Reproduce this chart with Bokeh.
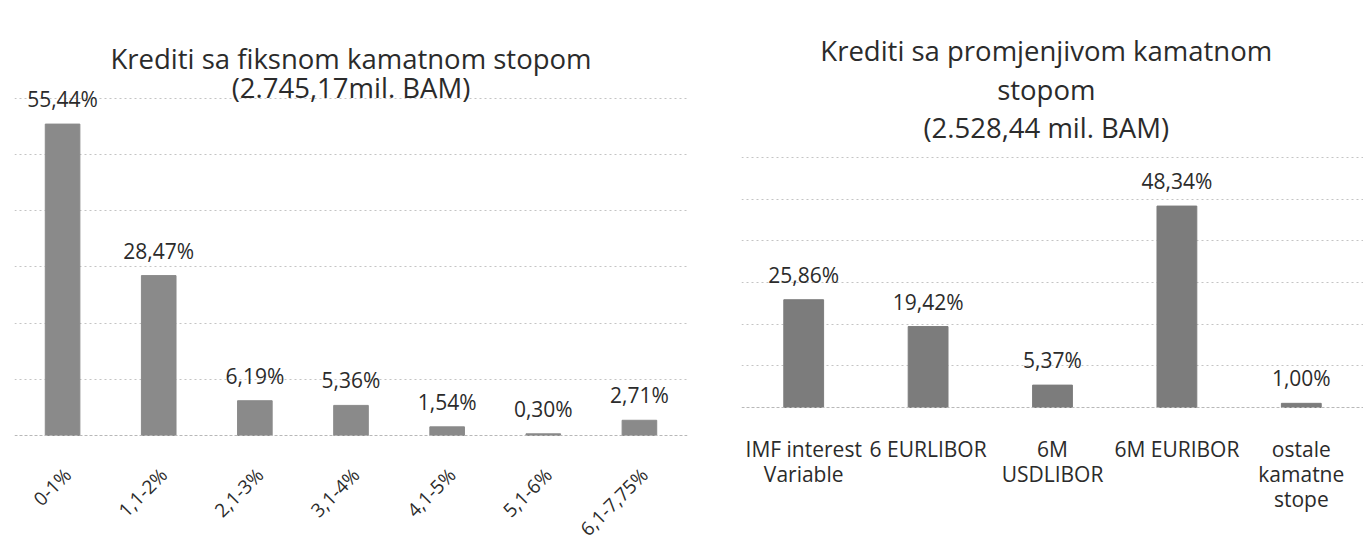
import math
from bokeh.plotting import figure
from bokeh.layouts import row
from bokeh.models import Range1d, FactorRange, Grid, FixedTicker, Span
from bokeh.core.properties import value
from bokeh.embed import file_html
from bokeh.resources import INLINE

# ---------------- data ----------------
fixed_cats = ["0-1%", "1,1-2%", "2,1-3%", "3,1-4%", "4,1-5%", "5,1-6%", "6,1-7,75%"]
fixed_vals = [55.44, 28.47, 6.19, 5.36, 1.54, 0.30, 2.71]
fixed_title = "Krediti sa fiksnom kamatnom stopom"
fixed_sub = "(2.745,17mil. BAM)"

var_cats = ["IMF interest\nVariable", "6 EURLIBOR", "6M\nUSDLIBOR", "6M EURIBOR", "ostale\nkamatne\nstope"]
var_vals = [25.86, 19.42, 5.37, 48.34, 1.00]
var_title = ["Krediti sa promjenjivom kamatnom", "stopom", "(2.528,44 mil. BAM)"]

grid_ticks = [10, 20, 30, 40, 50, 60]


def pct(v):
    return f"{v:.2f}".replace(".", ",") + "%"


FONT = value("Open Sans")
TXT = "#2b2b2b"
GRID = "#c4c4c4"
H = 541


def base_fig(cats, px_per, base_px, left, frame_w, right):
    p = figure(
        x_range=FactorRange(*cats),
        y_range=Range1d(-(H - base_px) / px_per, base_px / px_per),
        width=left + frame_w + right, height=H,
        min_border_left=left, min_border_right=right,
        min_border_top=0, min_border_bottom=0,
        x_axis_location=None, y_axis_location=None,
        toolbar_location=None, output_backend="svg",
    )
    p.center = [r for r in p.center if not isinstance(r, Grid)]
    p.outline_line_color = None
    p.background_fill_color = "white"
    p.border_fill_color = "white"
    p.add_layout(Grid(dimension=1, ticker=FixedTicker(ticks=grid_ticks),
                      grid_line_color=GRID, grid_line_dash="2 3", grid_line_width=1))
    p.add_layout(Span(location=0, dimension="width", line_color="#b8b8b8",
                      line_dash="3 2", line_width=1))
    return p


# ---------------- left chart ----------------
PX_L = 5.617
BASE_L = 435
p1 = base_fig(fixed_cats, PX_L, BASE_L, 14, 673, 20)
p1.vbar(x=fixed_cats, top=fixed_vals, width=0.36, color="#8a8a8a")
p1.text(x=fixed_cats, y=fixed_vals, text=[pct(v) for v in fixed_vals],
        text_align="center", text_baseline="middle", y_offset=-25,
        text_font=FONT, text_font_size="21px", text_color=TXT)
p1.text(x=fixed_cats, y=[0] * len(fixed_cats), text=fixed_cats,
        angle=math.pi / 4, text_align="right", text_baseline="middle",
        x_offset=5, y_offset=36,
        text_font=FONT, text_font_size="19px", text_color=TXT)
p1.text(x=[3.5, 3.5], y=[(BASE_L - 58) / PX_L, (BASE_L - 87) / PX_L],
        text=[fixed_title, fixed_sub], text_align="center", text_baseline="alphabetic",
        text_font=FONT, text_font_size="27.5px", text_color=TXT)

# ---------------- right chart ----------------
PX_R = 4.167
BASE_R = 407
p2 = base_fig(var_cats, PX_R, BASE_R, 34, 622, 0)
p2.vbar(x=var_cats, top=var_vals, width=0.32, color="#7c7c7c")
p2.text(x=var_cats, y=var_vals, text=[pct(v) for v in var_vals],
        text_align="center", text_baseline="middle", y_offset=-25,
        text_font=FONT, text_font_size="21px", text_color=TXT)
p2.text(x=var_cats, y=[0] * len(var_cats), text=var_cats,
        text_align="center", text_baseline="top", y_offset=27, text_line_height=0.9,
        text_font=FONT, text_font_size="21px", text_color=TXT)
p2.text(x=[2.45] * 3, y=[(BASE_R - 50) / PX_R, (BASE_R - 89) / PX_R, (BASE_R - 127) / PX_R],
        text=var_title, text_align="center", text_baseline="alphabetic",
        text_font=FONT, text_font_size="27.5px", text_color=TXT)

layout = row(p1, p2, spacing=0)
open("out.html", "w").write(file_html(layout, INLINE))
